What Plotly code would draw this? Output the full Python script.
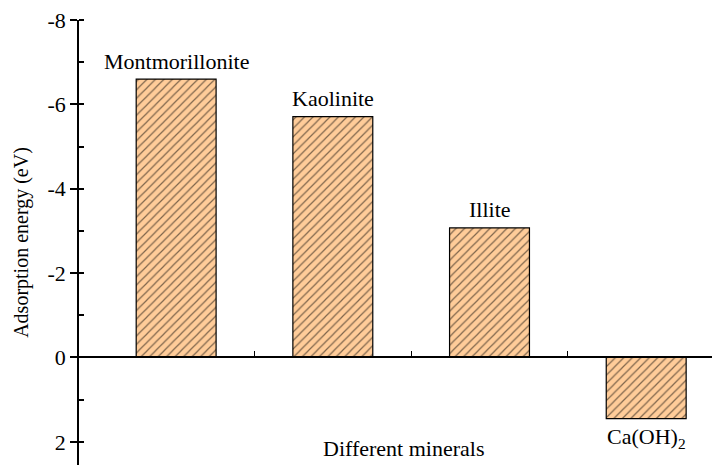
import plotly.graph_objects as go

minerals = ["Montmorillonite", "Kaolinite", "Illite", "Ca(OH)<sub>2</sub>"]
energies = [-6.6, -5.71, -3.07, 1.45]
x_pos = [0, 1, 2, 3]
y_tickvals = [-8, -6, -4, -2, 0, 2]
y_ticktext = ["-8", "-6", "-4", "-2", "0", "2"]

FONT = "Liberation Serif"
y_range = [2.55, -8]
zero_frac = (y_range[0] - 0) / (y_range[0] - y_range[1])

fig = go.Figure()
fig.add_trace(go.Bar(
    x=x_pos, y=energies, width=0.51,
    marker=dict(color="#FFCC99", line=dict(color="black", width=1.2),
                pattern=dict(shape="/", fgcolor="black", bgcolor="#FFCC99",
                             size=6, solidity=0.2)),
    showlegend=False,
))

for xi, yi, name in zip(x_pos, energies, minerals):
    fig.add_annotation(x=xi, y=yi, text=name, showarrow=False,
                       yshift=(18 if yi < 0 else -19),
                       font=dict(family=FONT, size=22, color="black"))

fig.add_annotation(x=1.45, y=2.17, text="Different minerals", showarrow=False,
                   font=dict(family=FONT, size=22, color="black"))

fig.update_layout(
    width=714, height=465,
    margin=dict(l=79, r=2, t=20, b=0),
    plot_bgcolor="white", paper_bgcolor="white",
    xaxis=dict(range=[-0.62, 3.42], anchor="free", position=zero_frac,
               showline=True, linecolor="black", linewidth=1.5,
               tickvals=[0.5, 1.5, 2.5], ticks="inside", ticklen=6,
               tickcolor="black", showticklabels=False, showgrid=False,
               zeroline=False, automargin=False),
    yaxis=dict(range=y_range, showline=True, linecolor="black", linewidth=1.5,
               tickvals=y_tickvals, ticktext=y_ticktext, ticks="outside",
               ticklen=7, tickcolor="black", tickwidth=1.5,
               minor=dict(dtick=1, ticks="inside", ticklen=5, tickcolor="black"),
               showgrid=False, zeroline=False, automargin=False,
               tickfont=dict(family=FONT, size=22, color="black"),
               title=dict(text="Adsorption energy (eV)", standoff=14,
                          font=dict(family=FONT, size=20, color="black"))),
)

fig.write_html("out.html", config={"displayModeBar": False},
               post_script="document.body.style.margin='0';")
